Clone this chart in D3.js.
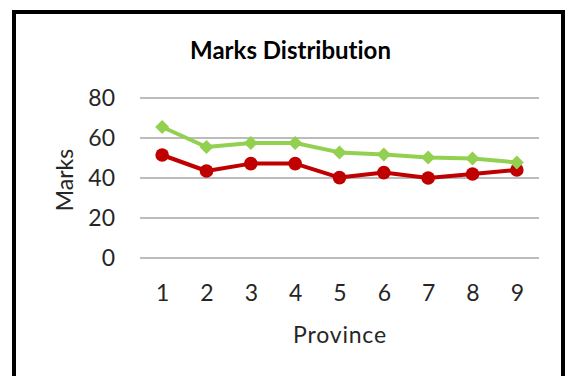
<!DOCTYPE html>
<html><head><meta charset="utf-8">
<script src="https://cdn.jsdelivr.net/npm/d3@7"></script>
<style>body{margin:0;background:#fff}svg{display:block}text{font-variant-ligatures:none}</style>
</head><body>
<script>
const categories = ["1","2","3","4","5","6","7","8","9"];
const seriesGreen = [65.5, 55.5, 57.5, 57.5, 52.8, 51.8, 50.2, 49.7, 47.8];
const seriesRed   = [51.5, 43.5, 47.2, 47.2, 40.2, 42.7, 40.0, 42.0, 44.0];
const yTicks = [0, 20, 40, 60, 80];
const title = "Marks Distribution";
const xTitle = "Province";
const yTitle = "Marks";

const W = 566, H = 376;
const svg = d3.select("body").append("svg").attr("width", W).attr("height", H);
svg.append("rect").attr("width", W).attr("height", H).attr("fill", "#fff");
svg.append("rect").attr("x", 14).attr("y", 12).attr("width", 549).attr("height", 420)
  .attr("fill", "none").attr("stroke", "#000").attr("stroke-width", 4);

const font = "Lato, 'Open Sans', sans-serif";
const x = d3.scalePoint().domain(categories).range([140, 539]).padding(0.5);
const y = d3.scaleLinear().domain([0, 80]).range([258, 98]);

// gridlines
svg.append("g").selectAll("line").data(yTicks).join("line")
  .attr("x1", 140).attr("x2", 539)
  .attr("y1", d => y(d)).attr("y2", d => y(d))
  .attr("stroke", "#a6a6a6").attr("stroke-width", 1.3);

// y axis labels
const yAxis = svg.append("g").attr("transform", "translate(121,0)")
  .call(d3.axisLeft(y).tickValues(yTicks).tickSize(0).tickPadding(6));
yAxis.select(".domain").remove();
yAxis.selectAll("text").attr("font-family", font).attr("font-size", 23).attr("fill", "#262626");

// x axis labels
const xAxis = svg.append("g").attr("transform", "translate(0,285)")
  .call(d3.axisBottom(x).tickSize(0).tickPadding(0));
xAxis.select(".domain").remove();
xAxis.selectAll("text").attr("font-family", font).attr("font-size", 23).attr("fill", "#262626");

svg.append("text").attr("x", 290.5).attr("y", 59).attr("text-anchor", "middle")
  .attr("font-family", font).attr("font-weight", "bold").attr("font-size", 24).attr("fill", "#000").text(title);
svg.append("text").attr("x", 340).attr("y", 343).attr("text-anchor", "middle")
  .attr("font-family", font).attr("font-size", 23).attr("letter-spacing", 0.8).attr("fill", "#262626").text(xTitle);
svg.append("text").attr("transform", "translate(73,180) rotate(-90)").attr("text-anchor", "middle")
  .attr("font-family", font).attr("font-size", 23).attr("fill", "#262626").text(yTitle);

const line = d3.line().x((d, i) => x(categories[i])).y(d => y(d));

// red series
svg.append("path").datum(seriesRed).attr("d", line).attr("fill", "none")
  .attr("stroke", "#c00000").attr("stroke-width", 4).attr("stroke-linejoin", "round");
svg.append("g").selectAll("circle").data(seriesRed).join("circle")
  .attr("cx", (d, i) => x(categories[i])).attr("cy", d => y(d)).attr("r", 6.8).attr("fill", "#c00000");

// green series
svg.append("path").datum(seriesGreen).attr("d", line).attr("fill", "none")
  .attr("stroke", "#92d050").attr("stroke-width", 4).attr("stroke-linejoin", "round");
svg.append("g").selectAll("path.dm").data(seriesGreen).join("path").attr("class", "dm")
  .attr("d", d3.symbol().type(d3.symbolDiamond2).size(125))
  .attr("transform", (d, i) => `translate(${x(categories[i])},${y(d)})`).attr("fill", "#92d050");
</script>
</body></html>
